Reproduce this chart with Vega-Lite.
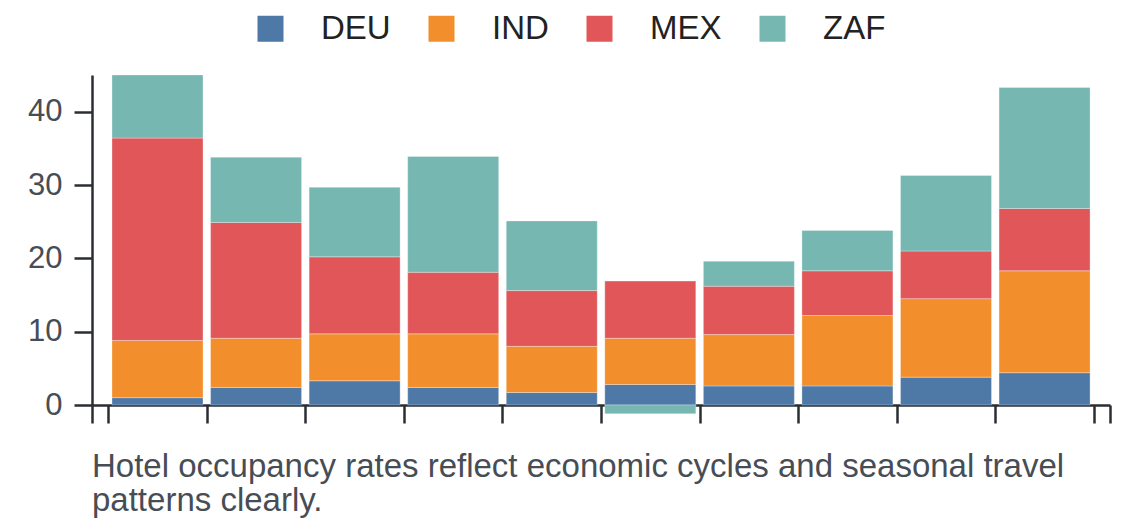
{
  "$schema": "https://vega.github.io/schema/vega-lite/v6.json",
  "autosize": {"type": "none"},
  "width": 1018,
  "height": 330,
  "padding": {"left": 92, "top": 75, "right": 30, "bottom": 123},
  "background": "white",
  "title": {
    "text": ["Hotel occupancy rates reflect economic cycles and seasonal travel", "patterns clearly."],
    "orient": "bottom",
    "anchor": "start",
    "frame": "group",
    "font": "Liberation Sans",
    "fontSize": 33,
    "fontWeight": "normal",
    "color": "#474d55",
    "lineHeight": 34,
    "offset": 27
  },
  "config": {
    "view": {"stroke": null},
    "font": "Liberation Sans"
  },
  "data": {
    "values": [
      {"period": 1, "country": "DEU", "value": 1.0},
      {"period": 1, "country": "IND", "value": 7.8},
      {"period": 1, "country": "MEX", "value": 27.6},
      {"period": 1, "country": "ZAF", "value": 8.6},
      {"period": 2, "country": "DEU", "value": 2.4},
      {"period": 2, "country": "IND", "value": 6.7},
      {"period": 2, "country": "MEX", "value": 15.8},
      {"period": 2, "country": "ZAF", "value": 8.9},
      {"period": 3, "country": "DEU", "value": 3.3},
      {"period": 3, "country": "IND", "value": 6.4},
      {"period": 3, "country": "MEX", "value": 10.5},
      {"period": 3, "country": "ZAF", "value": 9.5},
      {"period": 4, "country": "DEU", "value": 2.4},
      {"period": 4, "country": "IND", "value": 7.3},
      {"period": 4, "country": "MEX", "value": 8.4},
      {"period": 4, "country": "ZAF", "value": 15.8},
      {"period": 5, "country": "DEU", "value": 1.7},
      {"period": 5, "country": "IND", "value": 6.3},
      {"period": 5, "country": "MEX", "value": 7.6},
      {"period": 5, "country": "ZAF", "value": 9.5},
      {"period": 6, "country": "DEU", "value": 2.8},
      {"period": 6, "country": "IND", "value": 6.3},
      {"period": 6, "country": "MEX", "value": 7.8},
      {"period": 6, "country": "ZAF", "value": -1.2},
      {"period": 7, "country": "DEU", "value": 2.6},
      {"period": 7, "country": "IND", "value": 7.0},
      {"period": 7, "country": "MEX", "value": 6.6},
      {"period": 7, "country": "ZAF", "value": 3.4},
      {"period": 8, "country": "DEU", "value": 2.6},
      {"period": 8, "country": "IND", "value": 9.6},
      {"period": 8, "country": "MEX", "value": 6.1},
      {"period": 8, "country": "ZAF", "value": 5.5},
      {"period": 9, "country": "DEU", "value": 3.8},
      {"period": 9, "country": "IND", "value": 10.7},
      {"period": 9, "country": "MEX", "value": 6.5},
      {"period": 9, "country": "ZAF", "value": 10.3},
      {"period": 10, "country": "DEU", "value": 4.4},
      {"period": 10, "country": "IND", "value": 13.9},
      {"period": 10, "country": "MEX", "value": 8.5},
      {"period": 10, "country": "ZAF", "value": 16.5}
    ]
  },
  "mark": {"type": "bar", "width": 91, "stroke": "white", "strokeWidth": 0.6, "strokeOpacity": 0.5},
  "encoding": {
    "x": {
      "field": "period",
      "type": "quantitative",
      "scale": {"domain": [0.3354, 10.664], "nice": false, "zero": false, "padding": 0},
      "axis": {
        "title": null,
        "labels": false,
        "grid": false,
        "values": [0.3354, 0.5, 1.5, 2.5, 3.5, 4.5, 5.5, 6.5, 7.5, 8.5, 9.5, 10.5, 10.664],
        "tickSize": 18,
        "tickWidth": 2.5,
        "tickColor": "#2a2e33",
        "domainColor": "#2a2e33",
        "domainWidth": 2.5
      }
    },
    "y": {
      "field": "value",
      "type": "quantitative",
      "stack": "zero",
      "scale": {"domain": [0, 45], "nice": false},
      "axis": {
        "title": null,
        "grid": false,
        "values": [0, 10, 20, 30, 40],
        "tickSize": 18,
        "tickWidth": 2.5,
        "tickColor": "#2a2e33",
        "domainColor": "#2a2e33",
        "domainWidth": 2.5,
        "labelFont": "Liberation Sans",
        "labelFontSize": 31,
        "labelColor": "#474d55",
        "labelPadding": 12
      }
    },
    "order": {"field": "country", "sort": "ascending"},
    "color": {
      "field": "country",
      "type": "nominal",
      "scale": {"domain": ["DEU", "IND", "MEX", "ZAF"], "range": ["#4e79a7", "#f28e2b", "#e15759", "#76b7b2"]},
      "legend": {
        "title": null,
        "orient": "none",
        "direction": "horizontal",
        "legendX": 162,
        "legendY": -63,
        "symbolType": "square",
        "symbolSize": 676,
        "symbolStrokeWidth": 0,
        "symbolOpacity": 1,
        "labelFont": "Liberation Sans",
        "labelFontSize": 33,
        "labelColor": "#222222",
        "labelOffset": 34,
        "columnPadding": 34,
        "padding": 0
      }
    }
  }
}
